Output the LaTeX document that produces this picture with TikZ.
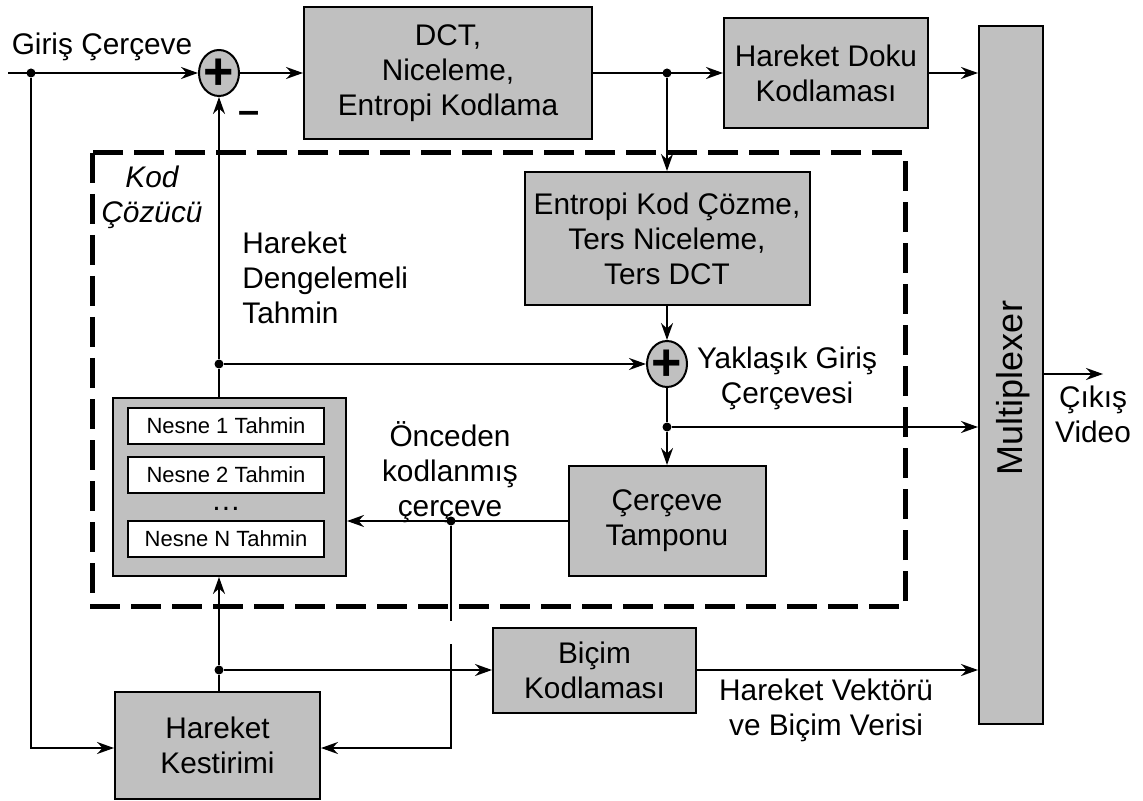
\documentclass[tikz,border=0pt]{standalone}
\usepackage{fontspec}
\setmainfont{Liberation Sans}
\usetikzlibrary{arrows.meta,shapes.geometric}
\definecolor{boxgray}{RGB}{192,192,192}
\begin{document}
\begin{tikzpicture}[x=0.5pt,y=-0.5pt,
  font=\fontsize{14.9}{17.5}\selectfont,
  block/.style={draw, line width=1pt, fill=boxgray, inner sep=0pt, align=center},
  subbox/.style={draw, line width=1pt, fill=white, inner sep=0pt,
    minimum width=98pt, minimum height=18pt, font=\fontsize{11}{13}\selectfont},
  sum/.style={ellipse, draw, line width=1pt, fill=boxgray, inner sep=0pt,
    minimum width=20pt, minimum height=23pt},
  plus/.style={inner sep=0pt, font=\fontsize{26}{26}\selectfont\bfseries},
  wire/.style={line width=1pt},
  flow/.style={wire, -{Stealth[length=8.5pt,width=6pt,inset=2.8pt]}},
  jdot/.style={circle, fill, inner sep=0pt, minimum size=4.5pt},
  lbl/.style={align=center, inner sep=0pt},
]
\useasboundingbox (0,0) rectangle (1143,801);

% decoder frame
\draw[line width=2.5pt, dash pattern=on 15pt off 5.5pt] (92,153) rectangle (905,606);

% blocks
\node[block, minimum width=144pt, minimum height=66pt] (dct) at (448,73)
  {DCT,\\Niceleme,\\Entropi Kodlama};
\node[block, minimum width=102pt, minimum height=55pt] (doku) at (826,73)
  {Hareket Doku\\Kodlaması};
\node[block, minimum width=32pt, minimum height=349pt] (mux) at (1011,375) {};
\node[rotate=90, inner sep=0pt, font=\fontsize{18}{20}\selectfont] (muxtext) at (1013,388) {Multiplexer};
\node[block, minimum width=142.5pt, minimum height=66.5pt] (ent) at (667,238.5)
  {Entropi Kod Çözme,\\Ters Niceleme,\\Ters DCT};
\node[block, minimum width=98.5pt, minimum height=55pt] (tampon) at (667,521)
  {Çerçeve\\Tamponu};
\node[block, minimum width=116.5pt, minimum height=89pt] (obj) at (229.5,487) {};
\node[subbox] (o1) at (226,426) {Nesne 1 Tahmin};
\node[subbox] (o2) at (226,475) {Nesne 2 Tahmin};
\node[inner sep=0pt, font=\fontsize{14.9}{17}\selectfont] (odots) at (226,509) {\dots};
\node[subbox] (oN) at (226,538.5) {Nesne N Tahmin};
\node[block, minimum width=101.5pt, minimum height=42.5pt] (bicim) at (594.5,670)
  {Biçim\\Kodlaması};
\node[block, minimum width=102.5pt, minimum height=53.5pt] (kest) at (217.5,745.5)
  {Hareket\\Kestirimi};

% adders
\node[sum] (add1) at (219,73) {};
\node[plus] (p1) at ([yshift=-0.6pt]add1.center) {+};
\node[sum] (add2) at (667,364) {};
\node[plus] (p2) at ([yshift=-0.6pt]add2.center) {+};

% junctions and free ends
\coordinate (in) at (8,73);
\node[jdot] (j1) at (31,73) {};
\node[jdot] (j2) at (667,73) {};
\node[jdot] (j3) at (667,427) {};
\node[jdot] (j4) at (451,521) {};
\node[jdot] (j5) at (219,364) {};
\node[jdot] (j6) at (219,670) {};
\coordinate (gapA) at (451,621);
\coordinate (gapB) at (451,644);
\coordinate (kin) at (451,748);
\coordinate (out) at (1103,374);

% labels
\node[lbl] (lin) at (102,47) {Giriş Çerçeve};
\node[inner sep=0pt, font=\fontsize{19}{19}\selectfont\bfseries] (minus) at (249,117) {–};
\node[lbl, font=\fontsize{14.9}{17.5}\selectfont\itshape] (lkod) at (152,197) {Kod\\Çözücü};
\node[lbl, align=left, anchor=west] (lhdt) at (242,278) {Hareket\\Dengelemeli\\Tahmin};
\node[lbl] (lonc) at (450,472) {Önceden\\kodlanmış\\çerçeve};
\node[lbl] (lyak) at (787,378) {Yaklaşık Giriş\\Çerçevesi};
\node[lbl] (lout) at (1093,414) {Çıkış\\Video};
\node[lbl] (lhvb) at (826,710) {Hareket Vektörü\\ve Biçim Verisi};

% connectors
\draw[flow] (in) -- (add1.west);
\draw[flow] (add1.east) -- (dct.west);
\draw[flow] (dct.east) -- (doku.west);
\draw[flow] (doku.east) -- (doku.east -| mux.west);
\draw[flow] (j2) -- (j2 |- ent.north);
\draw[flow] (ent.south) -- (add2.north);
\draw[wire] (add2.south) -- (j3);
\draw[flow] (j3) -- (j3 |- tampon.north);
\draw[flow] (j3) -- (j3 -| mux.west);
\draw[flow] (tampon.west) -- (tampon.west -| obj.east);
\draw[flow] (j5 |- obj.north) -- (j5) -- (add1.south);
\draw[flow] (j5) -- (add2.west);
\draw[wire] (j4) -- (gapA);
\draw[flow] (gapB) -- (kin) -- (kest.east |- kin);
\draw[flow] (j1) -- (j1 |- kin) -- (kest.west |- kin);
\draw[flow] (j6 |- kest.north) -- (j6) -- (j6 |- obj.south);
\draw[flow] (j6) -- (bicim.west);
\draw[flow] (bicim.east) -- (bicim.east -| mux.west);
\draw[flow] (mux.east |- out) -- (out);
\end{tikzpicture}
\end{document}
